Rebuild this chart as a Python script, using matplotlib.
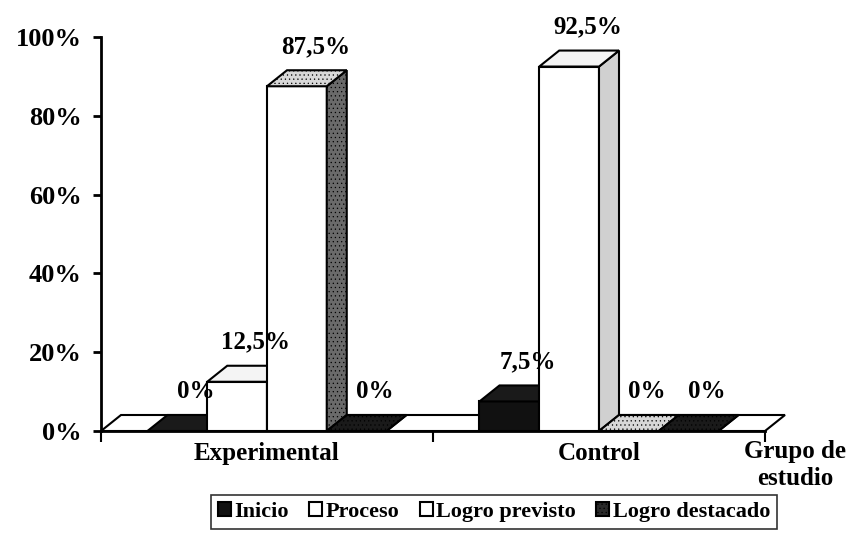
import matplotlib.pyplot as plt
from matplotlib.patches import Polygon, Rectangle, Patch

plt.rcParams['font.family'] = 'Liberation Serif'
plt.rcParams['font.weight'] = 'bold'
plt.rcParams['hatch.linewidth'] = 0.4

# data (percent of students per level)
grupos = ['Experimental', 'Control']
niveles = ['Inicio', 'Proceso', 'Logro previsto', 'Logro destacado']
inicio = [0, 7.5]
proceso = [12.5, 92.5]
logro_previsto = [87.5, 0]
logro_destacado = [0, 0]
yticks = [0, 20, 40, 60, 80, 100]

series = [inicio, proceso, logro_previsto, logro_destacado]

# front, top, side colours for each level
front = ['#111111', '#ffffff', '#ffffff', '#2a2a2a']
top = ['#1a1a1a', '#f4f4f4', '#d8d8d8', '#1a1a1a']
side = ['#000000', '#d0d0d0', '#6a6a6a', '#101010']
hatches = [None, None, '....', '....']

fig = plt.figure(figsize=(8.51, 5.42), dpi=100)
ax = fig.add_axes([101 / 851, 111 / 542, 664 / 851, 394 / 542])
ax.set_xlim(0, len(grupos))
ax.set_ylim(0, 100)

# depth of the fake 3d effect, in data units
dx = 20 / 664 * len(grupos)
dy = 16 / 394 * 100
width = 0.18

# floor
floor = Polygon([(0, 0), (len(grupos), 0), (len(grupos) + dx, dy), (dx, dy)],
                closed=True, facecolor='white', edgecolor='black', lw=1.5,
                clip_on=False, zorder=1)
ax.add_patch(floor)


def fmt(v):
    return ('%g' % v).replace('.', ',') + '%'


z = 2
for g in range(len(grupos)):
    for k, vals in enumerate(series):
        v = vals[g]
        x0 = g + 0.5 + (k - 2) * width
        x1 = x0 + width
        ax.add_patch(Rectangle((x0, 0), width, v, facecolor=front[k],
                               edgecolor='black', lw=1.5, clip_on=False, zorder=z))
        ax.add_patch(Polygon([(x1, 0), (x1 + dx, dy), (x1 + dx, v + dy), (x1, v)],
                             closed=True, facecolor=side[k], edgecolor='black',
                             lw=1.5, hatch=hatches[k], clip_on=False, zorder=z))
        ax.add_patch(Polygon([(x0, v), (x1, v), (x1 + dx, v + dy), (x0 + dx, v + dy)],
                             closed=True, facecolor=top[k], edgecolor='black',
                             lw=1.5, hatch=hatches[k], clip_on=False, zorder=z))
        ax.annotate(fmt(v), (x0 + width / 2 + dx / 2, v + dy),
                    xytext=(6, 17), textcoords='offset points',
                    ha='center', va='center', fontsize=18, fontweight='bold',
                    zorder=20, annotation_clip=False)
        z += 1

for s in ['top', 'right']:
    ax.spines[s].set_visible(False)
ax.spines['left'].set_linewidth(2)
ax.spines['bottom'].set_linewidth(2)
ax.spines['bottom'].set_zorder(30)

ax.set_yticks(yticks)
ax.set_yticklabels(['%d%%' % t for t in yticks], fontsize=19, fontweight='bold')
ax.tick_params(axis='y', length=6, width=2, pad=8)

ax.set_xticks(range(len(grupos) + 1))
ax.set_xticklabels([''] * (len(grupos) + 1))
ax.tick_params(axis='x', which='major', length=8, width=1.5)
ax.set_xticks([g + 0.5 for g in range(len(grupos))], minor=True)
ax.set_xticklabels(grupos, minor=True, fontsize=18, fontweight='bold')
ax.tick_params(axis='x', which='minor', length=0, pad=8)

fig.text(795 / 851, 1 - 465 / 542, 'Grupo de\nestudio', ha='center', va='center',
         fontsize=18, fontweight='bold', linespacing=1.2)

handles = [Patch(facecolor=front[k], edgecolor='black', lw=1.5, label=niveles[k])
           for k in range(len(niveles))]
handles[3] = Patch(facecolor='#2a2a2a', edgecolor='black', lw=1.5, hatch='....',
                   label=niveles[3])
leg = fig.legend(handles=handles, loc='center', ncol=4,
                 bbox_to_anchor=(494 / 851, 1 - 512 / 542),
                 prop={'size': 16, 'weight': 'bold'}, frameon=True, fancybox=False,
                 handlelength=0.6, handleheight=0.6, handletextpad=0.15,
                 columnspacing=0.9, borderpad=0.3)
leg.get_frame().set_edgecolor('black')
leg.get_frame().set_linewidth(1.2)

fig.savefig('out.png', dpi=100)
